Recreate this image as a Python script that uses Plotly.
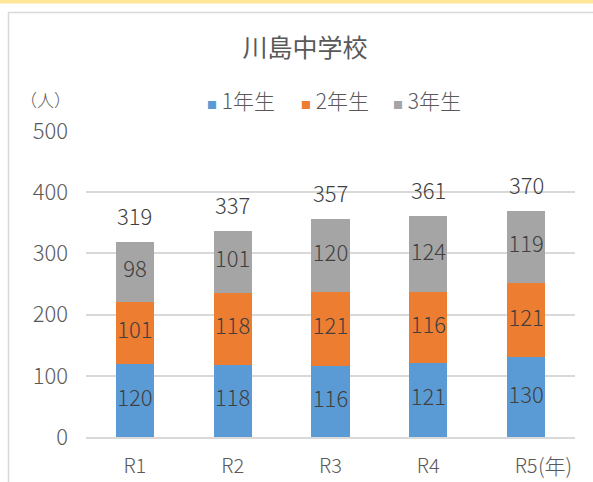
import plotly.graph_objects as go

categories = ["R1", "R2", "R3", "R4", "R5"]
grade1 = [120, 118, 116, 121, 130]
grade2 = [101, 118, 121, 116, 121]
grade3 = [98, 101, 120, 124, 119]
series_names = ["1年生", "2年生", "3年生"]
title_text = "川島中学校"
y_ticks = [0, 100, 200, 300, 400, 500]

colors = ["#5B9BD5", "#ED7D31", "#A5A5A5"]
FONT = "Noto Sans CJK JP"
TXT = "#595959"
LBL = "#404040"

W, H = 593, 482
L, R, T, B = 86, 18, 131, 45
pw, ph = W - L - R, H - T - B


def px(x):
    return (x - L) / pw


def py(y):
    return (H - B - y) / ph


fig = go.Figure()
series = [grade1, grade2, grade3]
for name, vals, c in zip(series_names, series, colors):
    fig.add_trace(go.Bar(x=categories, y=vals, name=name, marker_color=c,
                         marker_line_width=0, textposition="none", showlegend=False))

# segment labels at segment middles
base = [0] * len(categories)
for vals in series:
    mids = [b + v / 2 for b, v in zip(base, vals)]
    fig.add_trace(go.Scatter(x=categories, y=mids, mode="text",
                             text=[str(v) for v in vals],
                             textfont=dict(family=FONT, size=22, color=LBL, weight=300),
                             showlegend=False, hoverinfo="skip"))
    base = [b + v for b, v in zip(base, vals)]

totals = base
annotations = []
for c, t in zip(categories, totals):
    annotations.append(dict(x=c, y=t, text=str(t), showarrow=False, xanchor="center",
                            yanchor="middle", yshift=27,
                            font=dict(family=FONT, size=22, color=LBL, weight=300)))

# custom legend
legend_x = [241, 335, 427]
for name, c, lx in zip(series_names, colors, legend_x):
    annotations.append(dict(
        xref="paper", yref="paper", x=px(lx), y=py(100), xanchor="center", yanchor="middle",
        showarrow=False,
        text=f"<span style='color:{c};font-size:10px'>■</span> {name}",
        font=dict(family=FONT, size=21, color=TXT, weight=300)))

annotations += [
    dict(text="（人）", xref="paper", yref="paper", x=px(45), y=py(100),
         xanchor="center", yanchor="middle", showarrow=False,
         font=dict(family=FONT, size=17, color=TXT, weight=300)),
    dict(text="(年)", xref="paper", yref="paper", x=px(555), y=py(465),
         xanchor="center", yanchor="middle", showarrow=False,
         font=dict(family=FONT, size=21, color=TXT, weight=300)),
]

fig.update_layout(
    width=W, height=H,
    margin=dict(l=L, r=R, t=T, b=B),
    barmode="stack", bargap=0.61,
    paper_bgcolor="white", plot_bgcolor="white",
    font=dict(family=FONT, color=TXT, size=19),
    title=dict(text=title_text, xref="paper", x=px(305), xanchor="center",
               yref="container", y=1 - 48 / H, yanchor="middle",
               font=dict(family=FONT, size=25, color=TXT)),
    showlegend=False,
    xaxis=dict(showgrid=False, showline=True, linecolor="#D9D9D9", linewidth=1.5,
               ticks="", tickfont=dict(family=FONT, size=20, color=TXT, weight=300),
               ticklabelstandoff=10, automargin=False),
    yaxis=dict(range=[0, 500], tickvals=y_ticks, showgrid=True, gridcolor="#D9D9D9",
               gridwidth=1.5, zeroline=False, showline=False, ticks="",
               tickfont=dict(family=FONT, size=22, color=TXT, weight=300),
               ticklabelstandoff=17, automargin=False),
    shapes=[
        dict(type="rect", xref="paper", yref="paper", x0=px(-5), x1=px(600),
             y0=py(3.5), y1=py(-2), fillcolor="#FFE699", line_width=0, layer="below"),
        dict(type="rect", xref="paper", yref="paper", x0=px(8.5), x1=px(605),
             y0=py(495), y1=py(12.5), fillcolor="rgba(0,0,0,0)",
             line=dict(color="#D9D9D9", width=1.5), layer="below"),
    ],
    annotations=annotations,
)

fig.write_html("out.html", config={"displayModeBar": False},
               post_script="document.body.style.margin='0';document.body.style.overflow='hidden';")
